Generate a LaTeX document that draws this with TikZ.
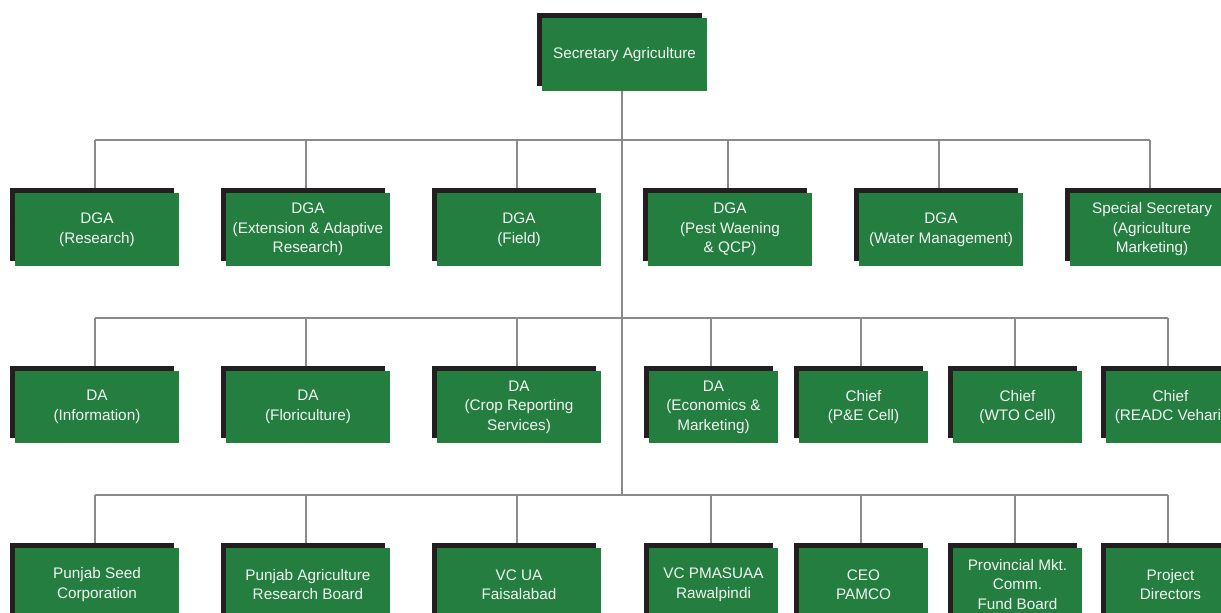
\documentclass[tikz,border=0pt]{standalone}
\usepackage{fontspec}
\setmainfont{Liberation Sans}
\usetikzlibrary{shadows}
\definecolor{boxgreen}{HTML}{237E3F}
\definecolor{shblack}{HTML}{231F20}
\definecolor{linegray}{HTML}{8A8A8A}
\definecolor{txtwhite}{HTML}{F2F5F2}
\pgfdeclarelayer{background}
\pgfsetlayers{background,main}
\tikzset{
  orgbox/.style={fill=boxgreen, text=txtwhite, align=center, inner sep=0pt,
    minimum height=72.5pt,
    font=\fontsize{15.3}{19.5}\selectfont,
    drop shadow={shadow xshift=-5pt, shadow yshift=5pt, fill=shblack, opacity=1}},
  wide/.style={orgbox, minimum width=164pt},
  narrow/.style={orgbox, minimum width=129pt},
  conn/.style={draw=linegray, line width=2pt}
}
\begin{document}
\begin{tikzpicture}[x=1pt,y=-1pt]
\useasboundingbox (0,0) rectangle (1221,613);
\clip (0,0) rectangle (1221,613);
% top
\node[orgbox, minimum width=165pt, minimum height=73pt] (top) at (624.5,54.5) {Secretary Agriculture};
% row 1
\node[wide] (a1) at (97,229.5) {DGA\\(Research)};
\node[wide] (a2) at (308,229.5) {DGA\\(Extension \& Adaptive\\Research)};
\node[wide] (a3) at (519,229.5) {DGA\\(Field)};
\node[wide] (a4) at (730,229.5) {DGA\\(Pest Waening\\\& QCP)};
\node[wide] (a5) at (941,229.5) {DGA\\(Water Management)};
\node[wide] (a6) at (1152,229.5) {Special Secretary\\(Agriculture\\Marketing)};
% row 2
\node[wide] (b1) at (97,407) {DA\\(Information)};
\node[wide] (b2) at (308,407) {DA\\(Floriculture)};
\node[wide] (b3) at (519,407) {DA\\(Crop Reporting\\Services)};
\node[narrow] (b4) at (713.5,407) {DA\\(Economics \&\\Marketing)};
\node[narrow] (b5) at (863.5,407) {Chief\\(P\&E Cell)};
\node[narrow] (b6) at (1017.5,407) {Chief\\(WTO Cell)};
\node[narrow] (b7) at (1170.5,407) {Chief\\(READC Vehari)};
% row 3
\node[wide] (c1) at (97,584.5) {Punjab Seed\\Corporation};
\node[wide] (c2) at (308,584.5) {Punjab Agriculture\\Research Board};
\node[wide] (c3) at (519,584.5) {VC UA\\Faisalabad};
\node[narrow] (c4) at (713.5,584.5) {VC PMASUAA\\Rawalpindi};
\node[narrow] (c5) at (863.5,584.5) {CEO\\PAMCO};
\node[narrow] (c6) at (1017.5,584.5) {Provincial Mkt.\\Comm.\\Fund Board};
\node[narrow] (c7) at (1170.5,584.5) {Project\\Directors};
% bus levels
\coordinate (bus1) at (0,140);
\coordinate (bus2) at (0,317.5);
\coordinate (bus3) at (0,495);
\begin{pgfonlayer}{background}
\draw[conn] ([xshift=-2.5pt]top.south) -- ([xshift=-2.5pt]top.south |- bus3);
\draw[conn] ([xshift=-2.5pt]a1.north |- bus1) -- ([xshift=-2.5pt]a6.north |- bus1);
\draw[conn] ([xshift=-2.5pt]b1.north |- bus2) -- ([xshift=-2.5pt]b7.north |- bus2);
\draw[conn] ([xshift=-2.5pt]c1.north |- bus3) -- ([xshift=-2.5pt]c7.north |- bus3);
\foreach \n in {a1,a2,a3,a4,a5,a6}
  \draw[conn] ([xshift=-2.5pt]\n.north |- bus1) -- ([xshift=-2.5pt]\n.north);
\foreach \n in {b1,b2,b3,b4,b5,b6,b7}
  \draw[conn] ([xshift=-2.5pt]\n.north |- bus2) -- ([xshift=-2.5pt]\n.north);
\foreach \n in {c1,c2,c3,c4,c5,c6,c7}
  \draw[conn] ([xshift=-2.5pt]\n.north |- bus3) -- ([xshift=-2.5pt]\n.north);
\end{pgfonlayer}
\end{tikzpicture}
\end{document}
